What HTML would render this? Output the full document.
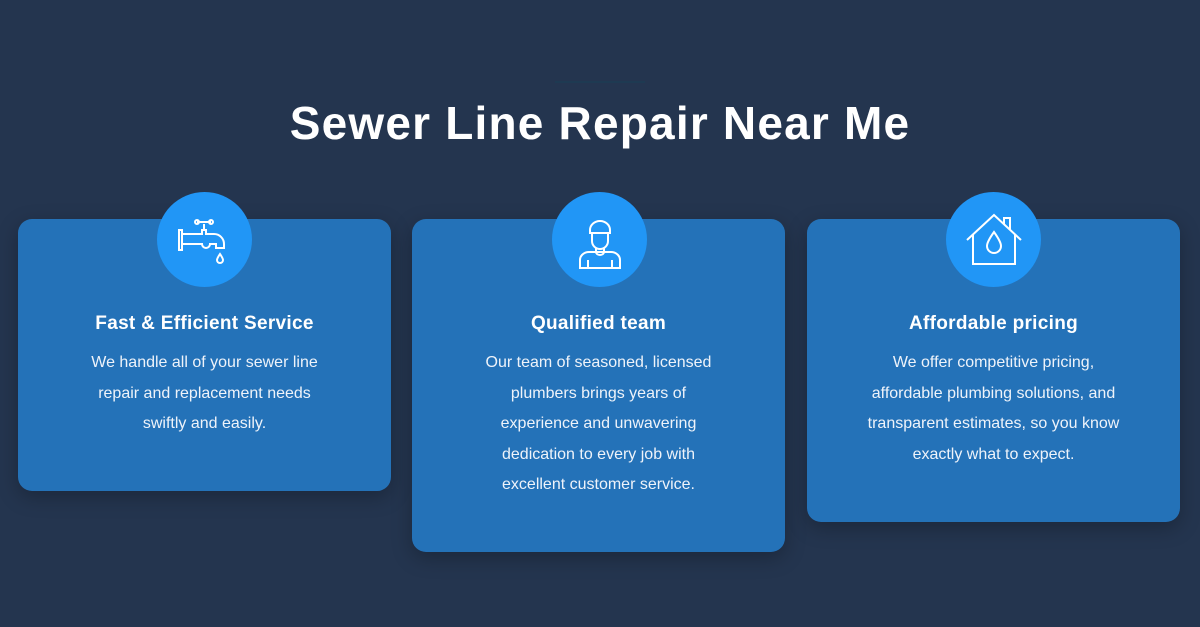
<!DOCTYPE html>
<html><head><style>
body{margin:0;width:1200px;height:627px;background:#24354f;font-family:"Liberation Sans",sans-serif;position:relative;overflow:hidden;color:#fff}
.line{position:absolute;left:555px;top:81px;width:90px;height:2px;background:#1e3a52}
h1{position:absolute;top:93px;left:0;width:1200px;margin:0;text-align:center;font-size:46px;font-weight:bold;letter-spacing:1.2px;line-height:60px}
.card{position:absolute;top:219px;width:373px;background:#2472b8;border-radius:14px;box-shadow:0 6px 20px rgba(0,0,0,.25);text-align:center}
.circ{position:absolute;top:192px;width:95px;height:95px;border-radius:50%;background:#2196f6;display:flex;align-items:center;justify-content:center}
h3{margin:0;position:absolute;top:94px;left:0;width:100%;font-size:19px;font-weight:bold;letter-spacing:.3px}
p{margin:0;position:absolute;top:129px;left:62px;right:62px;font-size:16px;line-height:30.5px;color:#eef3fa}
</style></head><body>
<div class="line"></div>
<h1>Sewer Line Repair Near Me</h1>
<div class="card" style="left:18px;height:272px"><h3>Fast &amp; Efficient Service</h3><p>We handle all of your sewer line repair and replacement needs swiftly and easily.</p></div>
<div class="card" style="left:412px;height:333px"><h3>Qualified team</h3><p>Our team of seasoned, licensed plumbers brings years of experience and unwavering dedication to every job with excellent customer service.</p></div>
<div class="card" style="left:807px;height:303px"><h3>Affordable pricing</h3><p style="left:52px;right:52px">We offer competitive pricing, affordable plumbing solutions, and transparent estimates, so you know exactly what to expect.</p></div>
<div class="circ" style="left:157px"><svg width="60" height="60" viewBox="0 0 60 60" fill="none" stroke="#fff" stroke-width="2"><rect x="4" y="20" width="3" height="20"/><path d="M7 24h20v-4h4v4h8a10 10 0 0 1 10 10v4h-8v-4h-6a4 4 0 0 1-8 0H7"/><path d="M29 20v-6M22 12h14"/><circle cx="22" cy="12" r="2"/><circle cx="36" cy="12" r="2"/><path d="M45 44c-2 3-3 5-3 6a3 3 0 0 0 6 0c0-1-1-3-3-6z"/></svg></div>
<div class="circ" style="left:552px"><svg width="60" height="60" viewBox="0 0 60 60" fill="none" stroke="#fff" stroke-width="2"><path d="M20 20a10 9 0 0 1 20 0v3H20z"/><path d="M22 23v8a8 8 0 0 0 16 0v-8"/><path d="M26 38v4h8v-4"/><path d="M10 58V50a9 8 0 0 1 9-8h7a4 3 0 0 0 8 0h7a9 8 0 0 1 9 8v8H10z"/><path d="M18 50v8M42 50v8"/></svg></div>
<div class="circ" style="left:946px"><svg width="60" height="60" viewBox="0 0 60 60" fill="none" stroke="#fff" stroke-width="2"><path d="M3 30L30 5l27 25"/><path d="M9 25v29h42V25"/><path d="M40 14V8h6v12"/><path d="M30 22c-5 7-7 11-7 14a7 7 0 0 0 14 0c0-3-2-7-7-14z"/></svg></div>
</body></html>
